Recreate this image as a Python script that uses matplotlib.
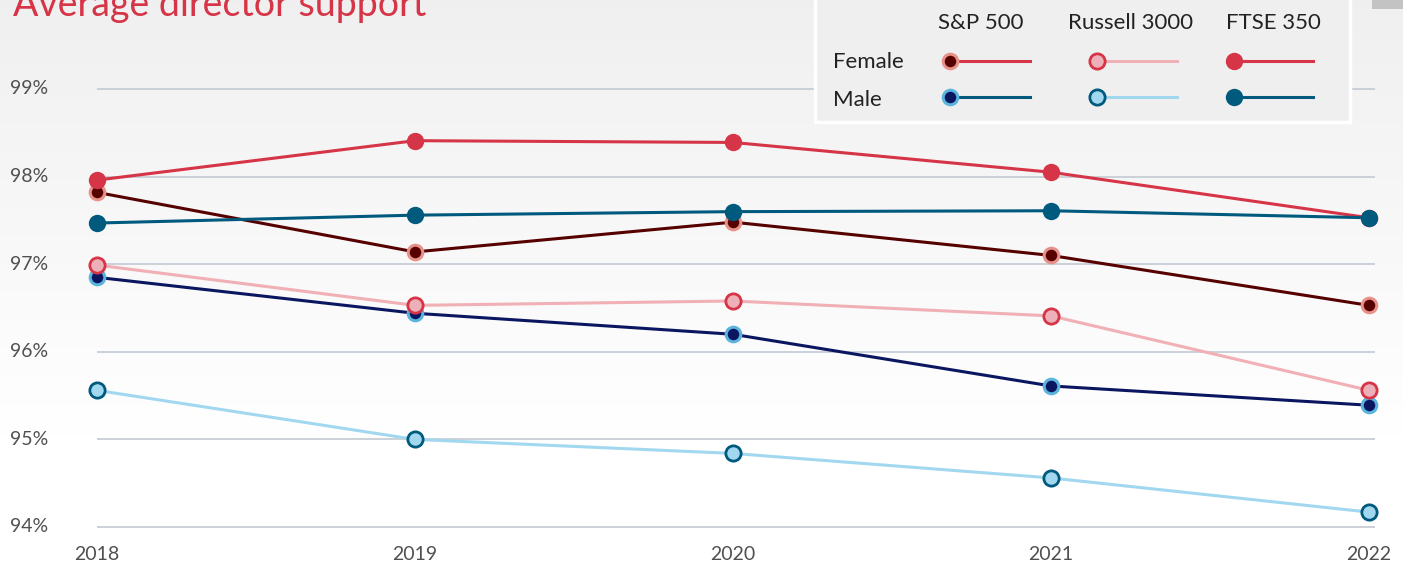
import numpy as np
import matplotlib.pyplot as plt
from matplotlib.patches import Rectangle

plt.rcParams['font.family'] = ['Lato', 'DejaVu Sans']

YEARS = [2018, 2019, 2020, 2021, 2022]
YTICKS = [94, 95, 96, 97, 98, 99]

sp_female = [97.82, 97.14, 97.48, 97.10, 96.53]
sp_male = [96.85, 96.44, 96.20, 95.61, 95.39]
russell_female = [96.99, 96.53, 96.58, 96.41, 95.56]
russell_male = [95.56, 95.00, 94.84, 94.56, 94.17]
ftse_female = [97.96, 98.41, 98.39, 98.05, 97.53]
ftse_male = [97.47, 97.56, 97.60, 97.61, 97.53]

RED = "#d63447"
TEAL = "#005a7e"
MAROON = "#560000"
NAVY = "#0b1660"
SALMON = "#e8908a"
SKY = "#5ab4dc"
PINK = "#f0b0b5"
PINK_FACE = "#eeb0b8"
LIGHT_BLUE = "#a2d8ef"

# (values, line colour, marker face, marker edge, marker size, edge width)
SERIES = [
    (russell_male, LIGHT_BLUE, LIGHT_BLUE, TEAL, 11.0, 2.0),
    (sp_male, NAVY, NAVY, SKY, 10.5, 2.2),
    (russell_female, PINK, PINK_FACE, RED, 11.0, 2.0),
    (sp_female, MAROON, MAROON, SALMON, 10.5, 2.2),
    (ftse_female, RED, RED, RED, 12.5, 0.0),
    (ftse_male, TEAL, TEAL, TEAL, 12.5, 0.0),
]

W, H = 1403, 564
fig = plt.figure(figsize=(W / 100, H / 100), dpi=100)
ax = fig.add_axes([0, 0, 1, 1])

# pixel mapping: 2018 -> x=97, 318 px per year; 99% -> y=89, 87.6 px per point
x0 = 2018 - 97 / 318
x1 = 2018 + (W - 97) / 318
ytop = 99 + 89 / 87.6
ybot = 99 - (H - 89) / 87.6
ax.set_xlim(x0, x1)
ax.set_ylim(ybot, ytop)
ax.axis("off")

# background gradient
grad = np.linspace(0, 1, 256).reshape(-1, 1)
top = np.array([0.94, 0.94, 0.94])
bot = np.array([1.0, 1.0, 1.0])
img = top + (bot - top) * np.clip(grad * 1.3, 0, 1)[..., None]
img = img.reshape(256, 1, 3)
ax.imshow(img, extent=[x0, x1, ybot, ytop], aspect="auto", zorder=0)

# gridlines and tick labels
for t in YTICKS:
    ax.hlines(t, 2018, 2022.02, color="#c3cad2", lw=1.2, zorder=1)
    ax.text(10 / W, t, f"{t}%", transform=ax.get_yaxis_transform(),
            fontsize=14, color="#505050", va="center", ha="left")
for yr in YEARS:
    ax.text(yr, ybot + (H - 554) / 87.6, str(yr), fontsize=14, color="#505050",
            ha="center", va="center")

for vals, lc, fc, ec, ms, mew in SERIES:
    ax.plot(YEARS, vals, color=lc, lw=2.2, zorder=3)
    ax.plot(YEARS, vals, ls="none", marker="o", ms=ms, mfc=fc, mec=ec,
            mew=mew, zorder=4)

# title (partially cut at the top)
fig.text(13 / W, 1 - 16 / H, "Average director support", color=RED,
         fontsize=27, va="baseline", ha="left")

# legend box drawn in pixel space
lax = fig.add_axes([0, 0, 1, 1])
lax.set_xlim(0, W)
lax.set_ylim(H, 0)
lax.axis("off")
lax.add_patch(Rectangle((1372, -5), 40, 14, color="#b8b8b8", alpha=0.8, lw=0))
lax.add_patch(Rectangle((815, -5), 535, 127, facecolor="#efefef",
                        edgecolor="white", lw=2.5))
hdr_y = 23
for label, cx in [("S&P 500", 981), ("Russell 3000", 1131), ("FTSE 350", 1273)]:
    lax.text(cx, hdr_y, label, fontsize=16, color="#222222", ha="center", va="center")
lax.text(833, 62, "Female", fontsize=16, color="#222222", va="center")
lax.text(833, 100, "Male", fontsize=16, color="#222222", va="center")

legend_rows = [
    # (y, start x, end x, line colour, face, edge, ms, mew)
    (61, 950, 1030, RED, MAROON, SALMON, 10.5, 2.2),
    (61, 1097, 1177, PINK, PINK_FACE, RED, 11, 2.0),
    (61, 1234, 1313, RED, RED, RED, 12.5, 0),
    (97, 950, 1030, TEAL, NAVY, SKY, 10.5, 2.2),
    (97, 1097, 1177, LIGHT_BLUE, LIGHT_BLUE, TEAL, 11, 2.0),
    (97, 1234, 1313, TEAL, TEAL, TEAL, 12.5, 0),
]
for y, xs, xe, lc, fc, ec, ms, mew in legend_rows:
    lax.plot([xs, xe], [y, y], color=lc, lw=2.2)
    lax.plot([xs], [y], ls="none", marker="o", ms=ms, mfc=fc, mec=ec, mew=mew)

fig.savefig("out.png", dpi=100)
